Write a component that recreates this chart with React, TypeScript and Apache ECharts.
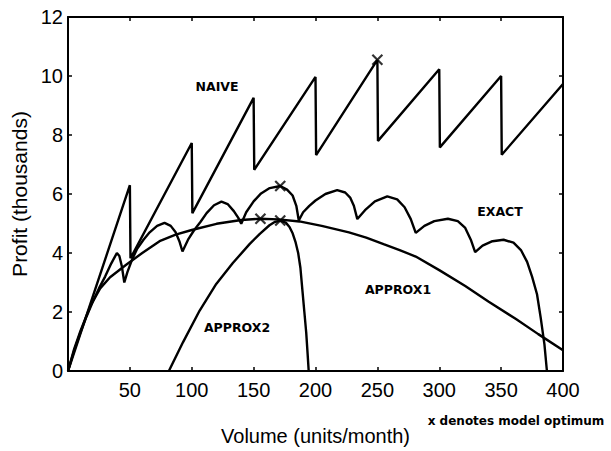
import React, { useEffect, useRef } from "react";
import * as echarts from "echarts";

// ---- data ----
const xTicks = [0, 50, 100, 150, 200, 250, 300, 350, 400];
const yTicks = [0, 2, 4, 6, 8, 10, 12];

const naive: [number, number][] = [
  [0, 0], [50, 6.3], [50.5, 3.82], [100, 7.73], [100.5, 5.35], [150, 9.26], [150.5, 6.82],
  [200, 9.97], [200.5, 7.32], [250, 10.55], [250.5, 7.8], [300, 10.23], [300.5, 7.58],
  [350, 10.0], [350.5, 7.33], [400, 9.73],
];

const exact: [number, number][] = [
  [0, 0], [5, 0.7], [10, 1.3], [15, 1.85], [20, 2.35], [25, 2.8], [30, 3.2], [35, 3.65], [39.5, 4.0],
  [41.5, 3.9], [43.5, 3.55], [45.5, 3.0],
  [48, 3.35], [52, 3.8], [56, 4.15], [61, 4.45], [66, 4.7], [72, 4.92], [78, 5.02], [83, 4.92],
  [87, 4.7], [90, 4.4], [92.5, 4.05],
  [97, 4.45], [102, 4.78], [107, 5.05], [112, 5.35], [118, 5.62], [124, 5.74], [129, 5.66],
  [134, 5.42], [137.5, 5.2], [140, 4.99],
  [144, 5.38], [150, 5.75], [156, 6.02], [163, 6.2], [171.5, 6.27], [177, 6.15], [181.5, 5.95],
  [184.5, 5.6], [186.5, 5.1],
  [190, 5.38], [195, 5.6], [200, 5.78], [208, 6.0], [217.5, 6.13], [224, 6.05], [228, 5.88],
  [231, 5.6], [233.8, 5.15],
  [240, 5.45], [248, 5.75], [258, 5.92], [266, 5.82], [272, 5.55], [277, 5.15], [281, 4.68],
  [288, 4.92], [296, 5.08], [307, 5.16], [315, 5.08], [321, 4.85], [325.5, 4.45], [329, 4.03],
  [335, 4.25], [343, 4.4], [352, 4.45], [360, 4.35], [366, 4.1], [371, 3.7], [375, 3.2],
  [379, 2.6], [382, 1.8], [385, 0.9], [387, 0],
];

const approx1: [number, number][] = [
  [0, 0], [5, 0.75], [10, 1.35], [18, 2.2], [26, 2.8], [34, 3.18], [47, 3.6], [60, 4.0],
  [74, 4.4], [87, 4.62], [100, 4.78], [120, 4.99], [140, 5.12], [155, 5.16], [170, 5.14],
  [187, 5.07], [205, 4.92], [227, 4.7], [241, 4.52], [255, 4.3], [268, 4.1], [281, 3.88],
  [300, 3.42], [321, 2.88], [340, 2.35], [362, 1.76], [380, 1.25], [400, 0.7],
];

const approx2: [number, number][] = [
  [81.5, 0], [93, 0.98], [106.4, 2.05], [119.8, 2.95], [133.2, 3.66], [146.7, 4.3],
  [155, 4.65], [162.8, 4.94], [167, 5.05], [171.5, 5.1], [176, 5.03], [179, 4.88],
  [181.6, 4.66], [184, 4.35], [186, 4.0], [187.8, 3.5], [189.5, 2.7], [191, 2.0],
  [192.5, 1.3], [193.6, 0.6], [194.5, 0],
];

const optima: [number, number][] = [
  [250, 10.55], [171.5, 6.27], [155.5, 5.16], [171.5, 5.1],
];

const curveLabels = ["NAIVE", "EXACT", "APPROX1", "APPROX2"];
const footnote = "x denotes model optimum";
const xTitle = "Volume (units/month)";
const yTitle = "Profit (thousands)";

const FONT = "'Liberation Sans', Arial, Helvetica, sans-serif";
const LABEL_FONT = "'DejaVu Sans', 'Liberation Sans', sans-serif";

export default function App() {
  const ref = useRef<HTMLDivElement>(null);
  useEffect(() => {
    if (!ref.current) return;
    const chart = echarts.init(ref.current, undefined, { renderer: "svg" });
    const lineSeries = (name: string, data: [number, number][]) => ({
      name,
      type: "line",
      data,
      showSymbol: false,
      symbol: "none",
      smooth: false,
      lineStyle: { color: "#000", width: 2.4 },
      xAxisIndex: 0,
      yAxisIndex: 0,
      z: 3,
    });
    const axisCommon = {
      type: "value",
      axisLine: { show: true, onZero: false, lineStyle: { color: "#000", width: 2 } },
      axisTick: { show: true, inside: true, length: 4, lineStyle: { color: "#000", width: 1.5 } },
      splitLine: { show: false },
    };
    const labelPos: [number, number][] = [
      [217, 86], [500, 211], [398, 289], [237, 327],
    ];
    chart.setOption({
      animation: false,
      backgroundColor: "#fff",
      grid: { left: 68, right: 48, top: 17, bottom: 75 },
      xAxis: [
        {
          ...axisCommon,
          min: 0,
          max: 400,
          interval: 50,
          position: "bottom",
          name: xTitle,
          nameLocation: "middle",
          nameGap: 55,
          nameTextStyle: { color: "#000", fontSize: 20, fontFamily: FONT },
          axisLabel: {
            color: "#000",
            fontSize: 20,
            fontFamily: FONT,
            margin: 9,
            formatter: (v: number) => (v === 0 ? "" : String(v)),
          },
        },
        {
          ...axisCommon,
          min: 0,
          max: 400,
          interval: 50,
          position: "top",
          axisLabel: { show: false },
        },
      ],
      yAxis: [
        {
          ...axisCommon,
          min: 0,
          max: 12,
          interval: 2,
          position: "left",
          name: yTitle,
          nameLocation: "middle",
          nameGap: 35,
          nameTextStyle: { color: "#000", fontSize: 21, fontFamily: FONT },
          axisLabel: { color: "#000", fontSize: 20, fontFamily: FONT, margin: 5 },
        },
        {
          ...axisCommon,
          min: 0,
          max: 12,
          interval: 2,
          position: "right",
          axisLabel: { show: false },
        },
      ],
      series: [
        lineSeries("NAIVE", naive),
        lineSeries("EXACT", exact),
        lineSeries("APPROX1", approx1),
        lineSeries("APPROX2", approx2),
        {
          name: "optimum",
          type: "scatter",
          data: optima,
          symbol: "path://M0 0L10 10M10 0L0 10",
          symbolSize: 10,
          itemStyle: { color: "rgba(0,0,0,0)", borderColor: "#000", borderWidth: 2.2 },
          z: 4,
        },
      ],
      graphic: [
        ...curveLabels.map((t, i) => ({
          type: "text",
          x: labelPos[i][0],
          y: labelPos[i][1],
          style: {
            text: t,
            fill: "#000",
            font: `bold 12.5px ${LABEL_FONT}`,
            align: "center",
            verticalAlign: "middle",
          },
        })),
        {
          type: "text",
          x: 516,
          y: 421,
          style: {
            text: footnote,
            fill: "#000",
            font: `bold 12px ${LABEL_FONT}`,
            align: "center",
            verticalAlign: "middle",
          },
        },
      ],
    });
    return () => chart.dispose();
  }, []);
  return (
    <div
      ref={ref}
      style={{ position: "fixed", left: 0, top: 0, width: 611, height: 451, background: "#fff" }}
    />
  );
}
